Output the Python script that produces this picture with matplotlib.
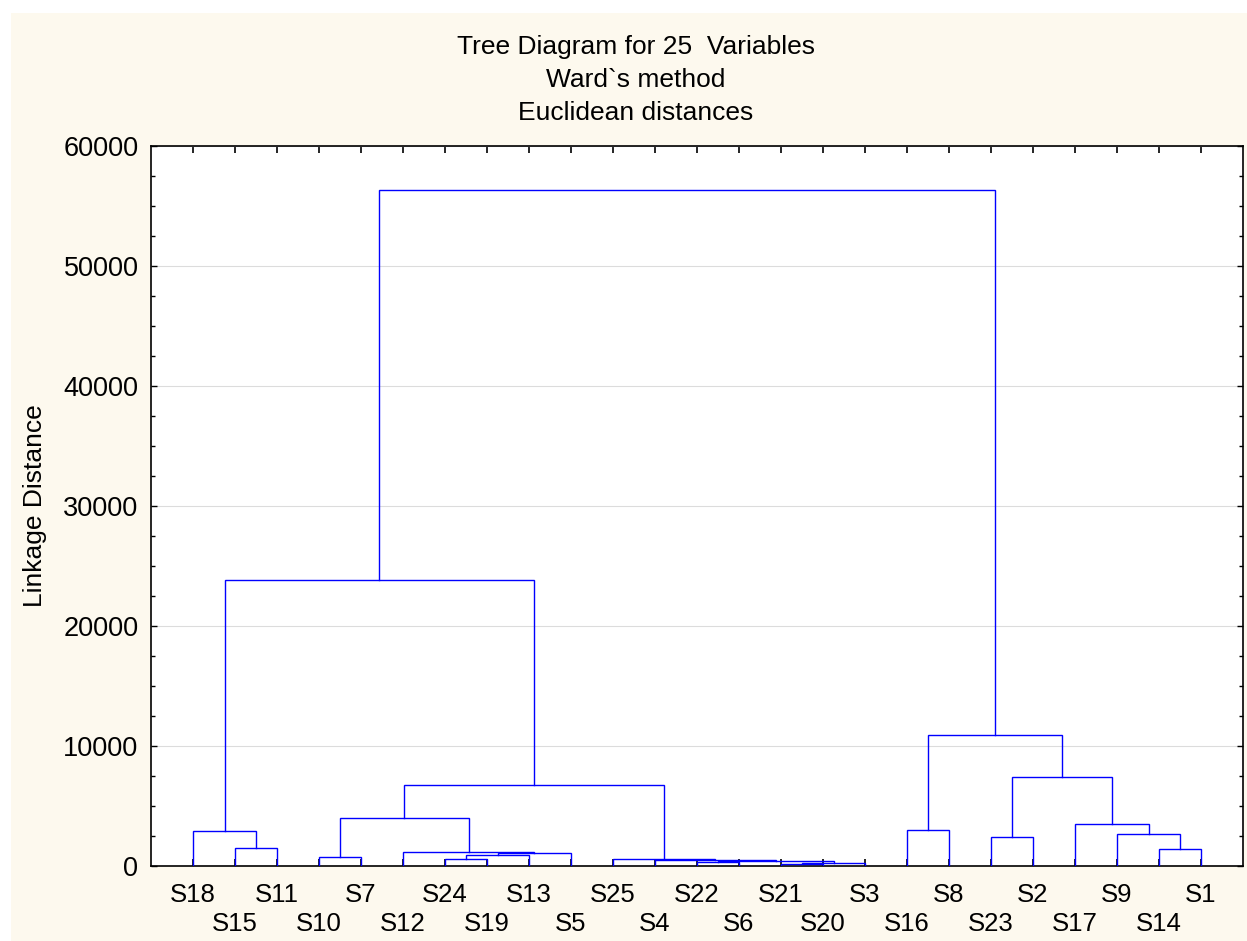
"""Tree diagram (Ward's method, Euclidean distances) for 25 variables"""
import matplotlib
matplotlib.use("Agg")
import matplotlib.pyplot as plt
from matplotlib.patches import Rectangle
from matplotlib.ticker import FixedLocator, MultipleLocator

_FONT  = "Liberation Sans"
_BLUE  = "#0000ff"
_CREAM = "#fdf9ee"
_GRID  = "#dcdcdc"

plt.rcParams["font.family"] = [_FONT, "DejaVu Sans"]

# leaf order along the x axis
leaves = ["S18", "S15", "S11", "S10", "S7", "S12", "S24", "S19", "S13", "S5",
          "S25", "S4", "S22", "S6", "S21", "S20", "S3", "S16", "S8", "S23",
          "S2", "S17", "S9", "S14", "S1"]

# merges: (left child, right child, linkage distance); ints refer to earlier merges
merge_left = ["S15", "S18", "S10", "S24", 3, 4, "S12", 2,
              "S21", 8, "S22", 10, "S4", "S25", 7, 1,
              "S16", "S23", "S14", "S9", "S17", 17, 16, 15]
merge_right = ["S11", 0, "S7", "S19", "S13", "S5", 5, 6,
               "S20", "S3", "S6", 9, 11, 12, 13, 14,
               "S8", "S2", "S1", 18, 19, 20, 21, 22]
merge_height = [1500, 2900, 780, 580, 900, 1100, 1200, 4000,
                200, 270, 300, 380, 480, 580, 6750, 23800,
                3000, 2400, 1400, 2700, 3500, 7450, 10950, 56300]

title_lines = ["Tree Diagram for 25  Variables", "Ward`s method", "Euclidean distances"]
y_label = "Linkage Distance"


def node_pos(node, merged):
    """x centre and height of a leaf name or merge index"""
    if isinstance(node, str):
        return leaves.index(node) + 1, 0.0
    return merged[node]


fig = plt.figure(figsize=(12.47, 9.41), dpi=100, facecolor="white")
fig.patches.append(Rectangle((11 / 1247, 0), 1, 1 - 13 / 941, transform=fig.transFigure,
                             facecolor=_CREAM, edgecolor="none", zorder=-10))

ax = fig.add_axes([151 / 1247, 75 / 941, 1092 / 1247, 720 / 941], facecolor="white")

# ── dendrogram links ─────────────────────────────────────────────────────────
merged = []
for left, right, h in zip(merge_left, merge_right, merge_height):
    xl, hl = node_pos(left, merged)
    xr, hr = node_pos(right, merged)
    ax.plot([xl, xl, xr, xr], [hl, h, h, hr], color=_BLUE, linewidth=1.0,
            solid_joinstyle="miter", zorder=3)
    merged.append(((xl + xr) / 2, h))

ax.set_xlim(0, len(leaves) + 1)
ax.set_ylim(0, 60000)

# ── axes / ticks ─────────────────────────────────────────────────────────────
pos = list(range(1, len(leaves) + 1))
ax.xaxis.set_major_locator(FixedLocator(pos[0::2]))
ax.xaxis.set_minor_locator(FixedLocator(pos[1::2]))
ax.set_xticklabels(leaves[0::2])
ax.set_xticklabels(leaves[1::2], minor=True)

ax.yaxis.set_major_locator(MultipleLocator(10000))
ax.yaxis.set_minor_locator(MultipleLocator(2500))

ax.tick_params(axis="x", which="both", direction="in", top=True, length=5, width=1.2,
               labelsize=18.5)
ax.tick_params(axis="x", which="major", pad=12)
ax.tick_params(axis="x", which="minor", pad=33)
ax.tick_params(axis="y", which="both", direction="in", right=True, width=1.0,
               labelsize=19.5, pad=9)
ax.tick_params(axis="y", which="major", length=4)
ax.tick_params(axis="y", which="minor", length=3)

ax.yaxis.grid(True, which="major", color=_GRID, linewidth=0.8, zorder=0)
ax.set_axisbelow(True)
for sp in ax.spines.values():
    sp.set_linewidth(1.2)
    sp.set_color("black")

# ── texts ────────────────────────────────────────────────────────────────────
for line, base in zip(title_lines, [54, 87, 120]):
    fig.text(636 / 1247, 1 - base / 941, line, ha="center", va="baseline", fontsize=19)
fig.text(35 / 1247, 1 - 506 / 941, y_label, rotation=90, ha="center", va="center",
         fontsize=19)

fig.savefig("out.png", dpi=100, facecolor=fig.get_facecolor())
